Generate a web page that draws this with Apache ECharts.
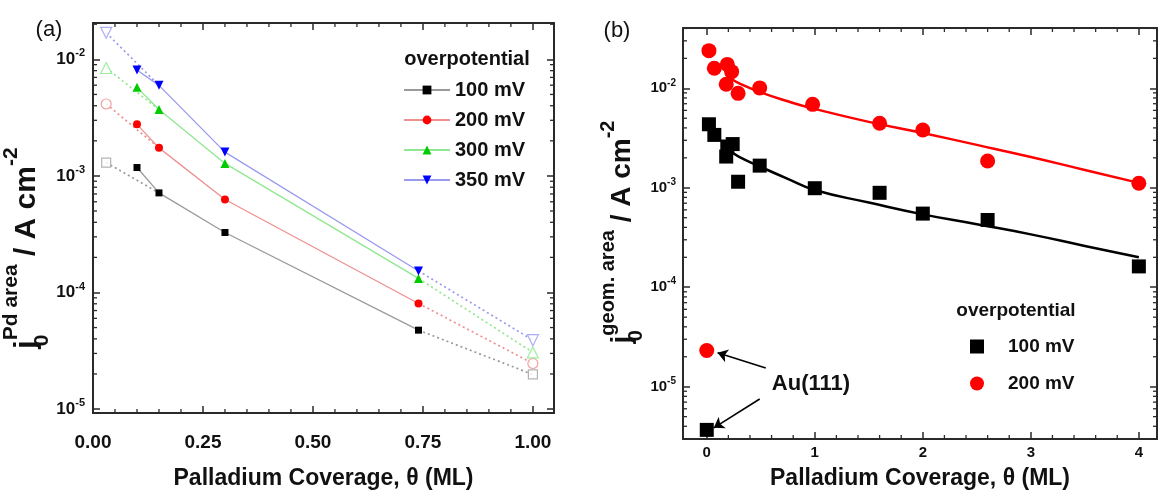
<!DOCTYPE html>
<html><head><meta charset="utf-8">
<script src="https://cdn.jsdelivr.net/npm/echarts@6/dist/echarts.min.js"></script>
<style>html,body{margin:0;padding:0;background:#fff;}#c{width:1158px;height:493px;}</style>
</head><body><div id="c"></div>
<script>
// ---------- Panel (a) data ----------
const thetaA = [0.03, 0.1, 0.15, 0.3, 0.74, 1.0];          // first and last are extrapolated (open symbols)
const jA_100 = [1.30e-3, 1.18e-3, 7.15e-4, 3.27e-4, 4.75e-5, 1.98e-5];
const jA_200 = [4.14e-3, 2.77e-3, 1.74e-3, 6.27e-4, 8.05e-5, 2.46e-5];
const jA_300 = [8.43e-3, 5.75e-3, 3.71e-3, 1.28e-3, 1.32e-4, 3.06e-5];
const jA_350 = [1.69e-2, 8.10e-3, 5.98e-3, 1.60e-3, 1.53e-4, 3.90e-5];
const namesA = ['100 mV', '200 mV', '300 mV', '350 mV'];
const xTickLabelsA = ['0.00', '0.25', '0.50', '0.75', '1.00'];

// ---------- Panel (b) data ----------
const thetaB_100 = [0.02, 0.07, 0.19, 0.24, 0.18, 0.29, 0.49, 1.0, 1.6, 2.0, 2.6, 4.0];
const jB_100 = [4.35e-3, 3.4e-3, 2.6e-3, 2.75e-3, 2.06e-3, 1.15e-3, 1.67e-3, 9.9e-4, 8.9e-4, 5.5e-4, 4.74e-4, 1.62e-4];
const thetaB_200 = [0.02, 0.07, 0.19, 0.23, 0.18, 0.29, 0.49, 0.98, 1.6, 2.0, 2.6, 4.0];
const jB_200 = [2.39e-2, 1.59e-2, 1.74e-2, 1.47e-2, 1.10e-2, 8.9e-3, 1.01e-2, 6.9e-3, 4.45e-3, 3.81e-3, 1.86e-3, 1.11e-3];
const auTheta = [0];
const auB_100 = [3.68e-6];
const auB_200 = [2.31e-5];
const fitTheta = [0.22, 0.3, 0.5, 0.75, 1, 1.5, 2, 2.5, 3, 3.5, 4];
const fitB_100 = [2.34e-3, 2.04e-3, 1.62e-3, 1.23e-3, 9.5e-4, 7.1e-4, 5.4e-4, 4.3e-4, 3.4e-4, 2.6e-4, 2.0e-4];
const fitB_200 = [1.26e-2, 1.12e-2, 9.1e-3, 7.4e-3, 6.2e-3, 4.6e-3, 3.55e-3, 2.7e-3, 2.04e-3, 1.51e-3, 1.12e-3];
const namesB = ['100 mV ', '200 mV '];
const xTicksB = [0, 1, 2, 3, 4];
const arrowTail = [[0.546, 1.545e-5], [0.49, 7.53e-6]];
const arrowHead = [[0.10, 2.19e-5], [0.065, 3.86e-6]];

// ---------- styling ----------
const FONT = "'Liberation Sans', Arial, Helvetica, sans-serif";
const AX = '#2a2a2a';
const extA = {xmin: 0, xmax: 1.048, ymin: 9.25e-6, ymax: 0.0205};
const extB = {xmin: -0.22, xmax: 4.168, ymin: 2.98e-6, ymax: 0.0404};

function pow10Label(v) {
  const e = Math.log10(v), r = Math.round(e);
  if (Math.abs(e - r) > 1e-6) return '';
  return '{b|10}{s|' + r + '}';
}
function logMinors(ymin, ymax) {
  const out = [];
  for (let d = -7; d <= 0; d++) for (let k = 2; k <= 9; k++) {
    const v = k * Math.pow(10, d);
    if (v > ymin && v < ymax) out.push(v);
  }
  return out;
}
function linMinors(xmin, xmax, step, major) {
  const out = [];
  for (let i = Math.ceil(xmin / step); i * step < xmax; i++) {
    const v = +(i * step).toFixed(6);
    if (v <= xmin) continue;
    if (Math.abs(v / major - Math.round(v / major)) < 1e-6) continue;
    out.push(v);
  }
  return out;
}
function yMinorRender(len) {
  return function (params, api) {
    const cs = params.coordSys;
    const y = api.coord([api.value(0), api.value(1)])[1];
    const st = {stroke: AX, lineWidth: 1.3};
    return {type: 'group', children: [
      {type: 'line', shape: {x1: cs.x, y1: y, x2: cs.x + len, y2: y}, style: st},
      {type: 'line', shape: {x1: cs.x + cs.width, y1: y, x2: cs.x + cs.width - len, y2: y}, style: st}
    ]};
  };
}
function xMinorRender(len) {
  return function (params, api) {
    const cs = params.coordSys;
    const x = api.coord([api.value(0), api.value(1)])[0];
    const st = {stroke: AX, lineWidth: 1.3};
    return {type: 'group', children: [
      {type: 'line', shape: {x1: x, y1: cs.y + cs.height, x2: x, y2: cs.y + cs.height - len}, style: st},
      {type: 'line', shape: {x1: x, y1: cs.y, x2: x, y2: cs.y + len}, style: st}
    ]};
  };
}

function xAxisPair(grid, ext, fmt, labelSize, margin, name, nameGap, interval, custom) {
  const common = {
    gridIndex: grid, type: 'value', min: ext.xmin, max: ext.xmax,
    splitLine: {show: false},
    axisLine: {show: true, onZero: false, lineStyle: {color: AX, width: 2}},
    axisTick: {show: true, inside: true, length: 7, lineStyle: {color: AX, width: 1.5}}
  };
  if (interval) common.interval = interval;
  if (custom) common.axisTick.customValues = custom;
  const label = {show: true, margin: margin, formatter: fmt, color: '#111', fontSize: labelSize, fontWeight: 'bold', fontFamily: FONT};
  if (custom) label.customValues = custom;
  return [
    Object.assign({}, common, {
      position: 'bottom', axisLabel: label,
      name: name, nameLocation: 'middle', nameGap: nameGap,
      nameTextStyle: {fontSize: 23, fontWeight: 'bold', fontFamily: FONT, color: '#111'}
    }),
    Object.assign({}, common, {position: 'top', axisLabel: {show: false}})
  ];
}
function yAxisPair(grid, ext, bSize, sSize, margin) {
  const common = {
    gridIndex: grid, type: 'log', logBase: 10, min: ext.ymin, max: ext.ymax,
    splitLine: {show: false},
    axisLine: {show: true, onZero: false, lineStyle: {color: AX, width: 2}},
    axisTick: {show: true, inside: true, length: 7, lineStyle: {color: AX, width: 1.5}}
  };
  return [
    Object.assign({}, common, {
      position: 'left',
      axisLabel: {show: true, margin: margin, formatter: pow10Label, color: '#111', fontFamily: FONT,
        rich: {
          b: {fontSize: bSize, fontWeight: 'bold', fontFamily: FONT, color: '#111', lineHeight: bSize + 6},
          s: {fontSize: sSize, fontWeight: 'bold', fontFamily: FONT, color: '#111', verticalAlign: 'top', lineHeight: sSize + 2}
        }}
    }),
    Object.assign({}, common, {position: 'right', axisLabel: {show: false}})
  ];
}

const styleA = [
  {mark: '#000000', line: '#9a9a9a', open: '#a0a0a0', sym: 'rect', size: 7, rot: 0},
  {mark: '#ff0000', line: '#ee9090', open: '#ee8c8c', sym: 'circle', size: 8, rot: 0},
  {mark: '#00cc00', line: '#8fe88f', open: '#88e888', sym: 'triangle', size: 9, rot: 0},
  {mark: '#0000ff', line: '#9a9af0', open: '#9898f0', sym: 'triangle', size: 9, rot: 180}
];
const valsA = [jA_100, jA_200, jA_300, jA_350];

const series = [];
valsA.forEach(function (vals, i) {
  const s = styleA[i];
  const pts = thetaA.map(function (t, k) { return [t, vals[k]]; });
  series.push({type: 'line', xAxisIndex: 0, yAxisIndex: 0, symbol: 'none', silent: true, z: 2,
    data: [pts[0], pts[2]], lineStyle: {color: s.line, width: 1.7, type: [2, 3]}});
  series.push({type: 'line', xAxisIndex: 0, yAxisIndex: 0, symbol: 'none', silent: true, z: 2,
    data: [pts[4], pts[5]], lineStyle: {color: s.line, width: 1.7, type: [2, 3]}});
  series.push({name: namesA[i], type: 'line', xAxisIndex: 0, yAxisIndex: 0, z: 4,
    data: pts.slice(1, 5), symbol: s.sym, symbolSize: s.size, symbolRotate: s.rot, showAllSymbol: true,
    lineStyle: {color: s.line, width: 1.3}, itemStyle: {color: s.mark}});
  series.push({type: 'scatter', xAxisIndex: 0, yAxisIndex: 0, z: 4,
    data: [pts[0], pts[5]], symbol: s.sym, symbolSize: s.size + 2, symbolRotate: s.rot,
    itemStyle: {color: '#ffffff', borderColor: s.open, borderWidth: 1.2}});
});

series.push({type: 'line', xAxisIndex: 2, yAxisIndex: 2, smooth: true, symbol: 'none', silent: true, z: 2,
  data: fitTheta.map(function (t, k) { return [t, fitB_200[k]]; }), lineStyle: {color: '#ff0000', width: 2.5}});
series.push({type: 'line', xAxisIndex: 2, yAxisIndex: 2, smooth: true, symbol: 'none', silent: true, z: 2,
  data: fitTheta.map(function (t, k) { return [t, fitB_100[k]]; }), lineStyle: {color: '#000000', width: 2.5}});
series.push({name: namesB[0], type: 'scatter', xAxisIndex: 2, yAxisIndex: 2, symbol: 'rect', symbolSize: 14, z: 4,
  data: thetaB_100.map(function (t, k) { return [t, jB_100[k]]; }), itemStyle: {color: '#000000', opacity: 1}});
series.push({name: namesB[1], type: 'scatter', xAxisIndex: 2, yAxisIndex: 2, symbol: 'circle', symbolSize: 15, z: 4,
  data: thetaB_200.map(function (t, k) { return [t, jB_200[k]]; }), itemStyle: {color: '#ff0000', opacity: 1}});
series.push({type: 'scatter', xAxisIndex: 2, yAxisIndex: 2, symbol: 'rect', symbolSize: 14, z: 4,
  data: auTheta.map(function (t, k) { return [t, auB_100[k]]; }), itemStyle: {color: '#000000', opacity: 1}});
series.push({type: 'scatter', xAxisIndex: 2, yAxisIndex: 2, symbol: 'circle', symbolSize: 15, z: 4,
  data: auTheta.map(function (t, k) { return [t, auB_200[k]]; }), itemStyle: {color: '#ff0000', opacity: 1},
  markLine: {silent: true, symbol: ['none', 'arrow'], symbolSize: 10, animation: false,
    lineStyle: {color: '#000', width: 1.6, type: 'solid'}, label: {show: false},
    data: arrowTail.map(function (t, k) { return [{coord: t}, {coord: arrowHead[k]}]; })}});

series.push({type: 'custom', xAxisIndex: 0, yAxisIndex: 0, silent: true, z: 1, clip: false,
  renderItem: yMinorRender(4), data: logMinors(extA.ymin, extA.ymax).map(function (v) { return [0.5, v]; })});
series.push({type: 'custom', xAxisIndex: 0, yAxisIndex: 0, silent: true, z: 1, clip: false,
  renderItem: xMinorRender(4), data: linMinors(extA.xmin, extA.xmax, 0.05, 0.25).map(function (v) { return [v, 1e-3]; })});
series.push({type: 'custom', xAxisIndex: 2, yAxisIndex: 2, silent: true, z: 1, clip: false,
  renderItem: yMinorRender(4), data: logMinors(extB.ymin, extB.ymax).map(function (v) { return [2, v]; })});
series.push({type: 'custom', xAxisIndex: 2, yAxisIndex: 2, silent: true, z: 1, clip: false,
  renderItem: xMinorRender(4), data: linMinors(0.01, extB.xmax, 0.2, 1).map(function (v) { return [v, 1e-3]; })});

const fmtA = function (v) {
  const k = Math.round(v / 0.25);
  return Math.abs(v - k * 0.25) < 1e-6 && xTickLabelsA[k] !== undefined ? xTickLabelsA[k] : '';
};
const fmtB = function (v) {
  return Math.abs(v - Math.round(v)) < 1e-6 ? String(Math.round(v)) : '';
};

const chart = echarts.init(document.getElementById('c'), null, {renderer: 'canvas'});
chart.setOption({
  animation: false,
  backgroundColor: '#ffffff',
  grid: [
    {left: 93, top: 23, width: 461, height: 390, containLabel: false, outerBoundsMode: 'none'},
    {left: 683, top: 28, width: 474, height: 411, containLabel: false, outerBoundsMode: 'none'}
  ],
  xAxis: [].concat(
    xAxisPair(0, extA, fmtA, 19, 20, 'Palladium Coverage, θ (ML)', 54, 0.25, null),
    xAxisPair(1, extB, fmtB, 15, 6, 'Palladium Coverage, θ (ML)', 28, null, xTicksB)
  ),
  yAxis: [].concat(
    yAxisPair(0, extA, 17, 11, 8),
    yAxisPair(1, extB, 15, 10, 7)
  ),
  legend: [
    {data: namesA, orient: 'vertical', left: 398, top: 75, itemWidth: 46, itemHeight: 11, itemGap: 10,
      selectedMode: false, formatter: function (n) { return n.trim(); },
      textStyle: {fontSize: 20, fontWeight: 'bold', fontFamily: FONT, color: '#111'}},
    {data: namesB, orient: 'vertical', left: 965, top: 332, itemWidth: 14, itemHeight: 14, itemGap: 18,
      selectedMode: false, formatter: function (n) { return n.trim(); },
      textStyle: {fontSize: 19, fontWeight: 'bold', fontFamily: FONT, color: '#111', padding: [0, 0, 0, 19]}}
  ],
  graphic: [
    {type: 'text', x: 49, y: 30, style: {text: '(a)', font: '22px ' + FONT, fill: '#111', align: 'center', verticalAlign: 'middle'}},
    {type: 'text', x: 617, y: 31, style: {text: '(b)', font: '22px ' + FONT, fill: '#111', align: 'center', verticalAlign: 'middle'}},
    {type: 'text', x: 467, y: 59, style: {text: 'overpotential', font: 'bold 20px ' + FONT, fill: '#111', align: 'center', verticalAlign: 'middle'}},
    {type: 'text', x: 1016, y: 311, style: {text: 'overpotential', font: 'bold 19px ' + FONT, fill: '#111', align: 'center', verticalAlign: 'middle'}},
    {type: 'text', x: 811, y: 384, style: {text: 'Au(111)', font: 'bold 22px ' + FONT, fill: '#111', align: 'center', verticalAlign: 'middle'}},
    {type: 'text', x: 27, y: 248, rotation: Math.PI / 2,
      style: {text: '{j|j}{sub|0}{sup|Pd area}{m| / A cm}{sup|-2}', align: 'center', verticalAlign: 'middle', fill: '#111',
        rich: {
          j: {fontSize: 30, fontWeight: 'bold', fontFamily: FONT, fill: '#111', lineHeight: 52},
          m: {fontSize: 30, fontWeight: 'bold', fontFamily: FONT, fill: '#111', lineHeight: 52},
          sub: {fontSize: 21, fontWeight: 'bold', fontFamily: FONT, fill: '#111', verticalAlign: 'bottom', lineHeight: 22, width: 0},
          sup: {fontSize: 21, fontWeight: 'bold', fontFamily: FONT, fill: '#111', verticalAlign: 'top', lineHeight: 22}
        }}},
    {type: 'text', x: 622, y: 232, rotation: Math.PI / 2,
      style: {text: '{j|j}{sub|0}{sup|geom. area}{m| / A cm}{sup|-2}', align: 'center', verticalAlign: 'middle', fill: '#111',
        rich: {
          j: {fontSize: 28, fontWeight: 'bold', fontFamily: FONT, fill: '#111', lineHeight: 48},
          m: {fontSize: 28, fontWeight: 'bold', fontFamily: FONT, fill: '#111', lineHeight: 48},
          sub: {fontSize: 20, fontWeight: 'bold', fontFamily: FONT, fill: '#111', verticalAlign: 'bottom', lineHeight: 20, width: 0},
          sup: {fontSize: 20, fontWeight: 'bold', fontFamily: FONT, fill: '#111', verticalAlign: 'top', lineHeight: 20}
        }}}
  ],
  series: series
});
</script></body></html>
